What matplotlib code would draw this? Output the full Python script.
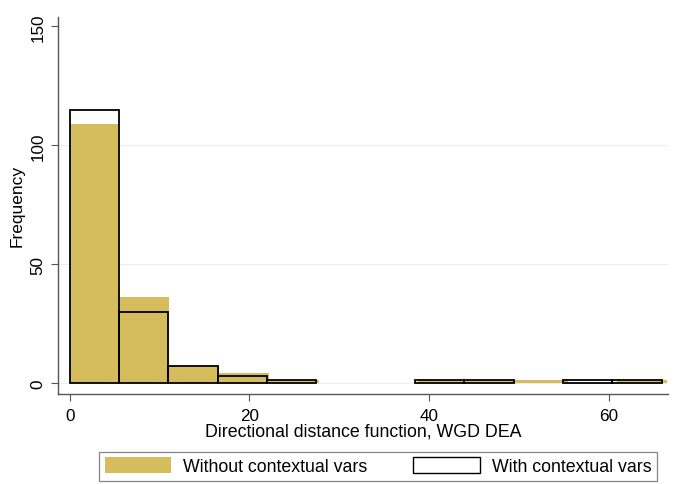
import numpy as np
import matplotlib
matplotlib.use("Agg")
import matplotlib.pyplot as plt
from matplotlib.patches import Patch

plt.rcParams['font.family'] = ['Liberation Sans', 'DejaVu Sans']

# counts per bin
without_counts = np.array([109, 36, 7, 4, 1, 0, 0, 1, 1, 1, 0, 1])
with_counts = np.array([115, 30, 7, 3, 1, 0, 0, 1, 1, 0, 1, 1])
without_width = 5.54
with_width = 5.49

xticks = [0, 20, 40, 60]
yticks = [0, 50, 100, 150]

gold = '#D5BD5E'

fig = plt.figure(figsize=(6.78, 4.85), dpi=100)
ax = fig.add_axes([0.0855, 0.186, 0.90, 0.777])

for y in [0, 50, 100]:
    ax.axhline(y, color='#EDEDED', lw=0.8, zorder=0)

left_wo = np.arange(len(without_counts)) * without_width
left_w = np.arange(len(with_counts)) * with_width
m1 = without_counts > 0
m2 = with_counts > 0

ax.bar(left_wo[m1], without_counts[m1], width=without_width, align='edge',
       color=gold, edgecolor='none', zorder=2)
ax.bar(left_w[m2], with_counts[m2], width=with_width, align='edge',
       facecolor='none', edgecolor='black', linewidth=1.3, zorder=3)

ax.set_xlim(-1.3, 66.6)
ax.set_ylim(-4.6, 154)
ax.set_xticks(xticks)
ax.set_yticks(yticks)
ax.tick_params(axis='y', labelrotation=90, colors='#555555', labelcolor='black',
               labelsize=12.3, length=5, pad=4)
ax.tick_params(axis='x', colors='#555555', labelcolor='black', labelsize=12.3,
               length=5, pad=5)
for lab in ax.get_yticklabels():
    lab.set_va('center')

for s in ['top', 'right']:
    ax.spines[s].set_visible(False)
for s in ['left', 'bottom']:
    ax.spines[s].set_color('#555555')
    ax.spines[s].set_linewidth(1.0)

ax.set_xlabel('Directional distance function, WGD DEA', fontsize=12.8, labelpad=0)
ax.set_ylabel('Frequency', fontsize=12.5, labelpad=4)

handles = [Patch(facecolor=gold, edgecolor='none', label='Without contextual vars'),
           Patch(facecolor='white', edgecolor='black', linewidth=1.0,
                 label='With contextual vars')]
leg = fig.legend(handles=handles, loc='center', bbox_to_anchor=(0.5575, 0.037), ncol=2,
                 frameon=True, fancybox=False, edgecolor='#666666', fontsize=12.8,
                 handlelength=3.75, handleheight=1.05, columnspacing=2.6,
                 borderpad=0.3, handletextpad=0.65, borderaxespad=0)
leg.get_frame().set_linewidth(0.9)

fig.savefig('out.png', dpi=100)
